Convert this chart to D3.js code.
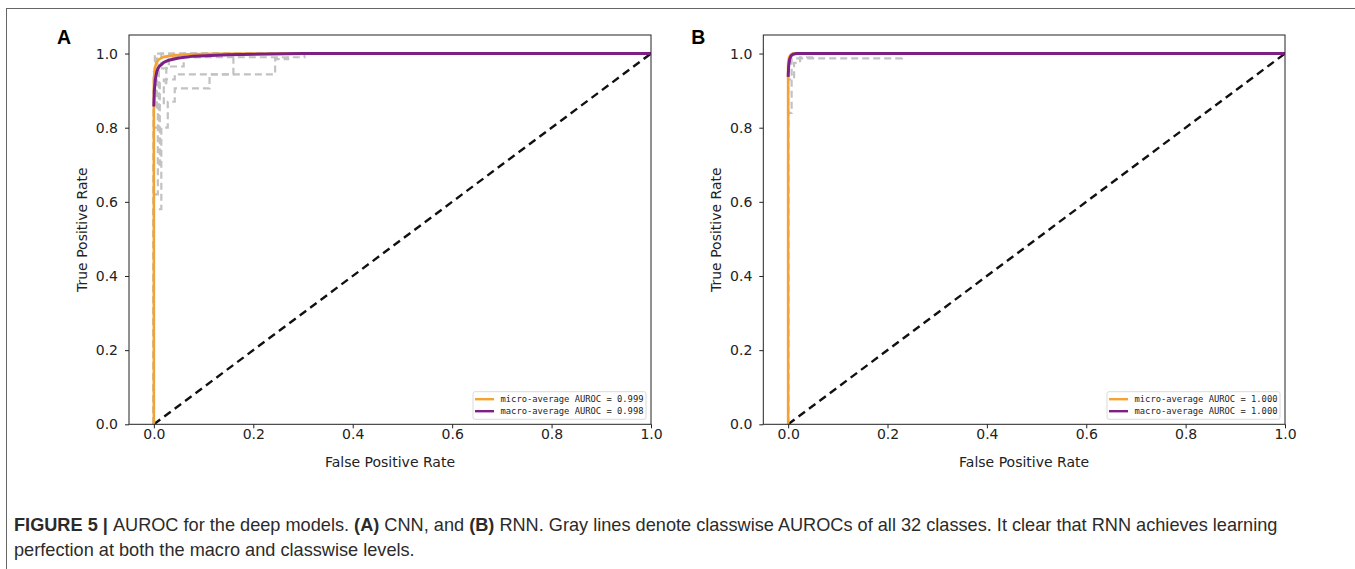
<!DOCTYPE html>
<html>
<head>
<meta charset="UTF-8">
<script src="https://d3js.org/d3.v7.min.js"></script>
<style>
  body { margin: 0; background: #fff; }
  .tick text { font-family: "DejaVu Sans", sans-serif; font-size: 14px; fill: #222; }
  .axlabel { font-family: "DejaVu Sans", sans-serif; font-size: 14px; fill: #222; }
  .legend text { font-family: "DejaVu Sans Mono", monospace; font-size: 8.8px; fill: #222; }
  .caption { font-family: "Liberation Sans", Arial, sans-serif; font-size: 15px; fill: #2b2b2b; }
</style>
</head>
<body>
<svg width="1355" height="569"></svg>
<script>
// ticks shared by both panels
const ticks = [0, 0.2, 0.4, 0.6, 0.8, 1.0];

// chance line
const chance = [[0, 0], [1, 1]];

// panel A (CNN)
const cnnMicro = [[0, 0], [0, 0.93], [0.002, 0.96], [0.005, 0.975], [0.01, 0.984], [0.02, 0.991],
  [0.04, 0.995], [0.07, 0.998], [0.12, 0.999], [0.25, 1], [1, 1]];
const cnnMacro = [[0, 0.857], [0.001, 0.9], [0.003, 0.93], [0.006, 0.952], [0.01, 0.964], [0.02, 0.976],
  [0.03, 0.982], [0.05, 0.988], [0.08, 0.993], [0.15, 0.997], [0.3, 1], [1, 1]];
const cnnClasses = [
  [[0, 0], [0, 0.85], [0.006, 0.85], [0.006, 0.99], [0.303, 0.99], [0.303, 1], [1, 1]],
  [[0, 0], [0, 0.62], [0.008, 0.62], [0.008, 0.86], [0.02, 0.86], [0.02, 0.93], [0.042, 0.93],
    [0.042, 0.944], [0.244, 0.944], [0.244, 0.985], [0.27, 0.985], [0.27, 1], [1, 1]],
  [[0, 0], [0, 0.58], [0.015, 0.58], [0.015, 0.8], [0.028, 0.8], [0.028, 0.87], [0.042, 0.87],
    [0.042, 0.906], [0.112, 0.906], [0.112, 0.944], [0.16, 0.944], [0.16, 1], [1, 1]],
  [[0, 0], [0, 0.7], [0.012, 0.7], [0.012, 0.92], [0.025, 0.92], [0.025, 0.965], [0.06, 0.965],
    [0.06, 1], [1, 1]],
  [[0, 0], [0, 0.9], [0.004, 0.9], [0.004, 0.97], [0.015, 0.97], [0.015, 1], [1, 1]],
  [[0, 0], [0, 0.95], [0.002, 0.95], [0.002, 1], [1, 1]],
  [[0, 0], [0, 0.8], [0.01, 0.8], [0.01, 0.96], [0.03, 0.96], [0.03, 0.99], [0.1, 0.99], [0.1, 1], [1, 1]]
];
const legendA = ["micro-average AUROC = 0.999", "macro-average AUROC = 0.998"];

// panel B (RNN)
const rnnMicro = [[0, 0], [0, 0.975], [0.002, 0.99], [0.005, 0.997], [0.01, 1], [1, 1]];
const rnnMacro = [[0, 0.937], [0.001, 0.965], [0.003, 0.985], [0.006, 0.994], [0.01, 0.998], [0.017, 1], [1, 1]];
const rnnClasses = [
  [[0, 0], [0, 0.84], [0.007, 0.84], [0.007, 0.987], [0.229, 0.987], [0.229, 1], [1, 1]],
  [[0, 0], [0, 0.93], [0.012, 0.93], [0.012, 0.975], [0.024, 0.975], [0.024, 0.99], [0.05, 0.99], [0.05, 1], [1, 1]],
  [[0, 0], [0, 0.97], [0.004, 0.97], [0.004, 1], [1, 1]]
];
const legendB = ["micro-average AUROC = 1.000", "macro-average AUROC = 1.000"];

const colMicro = "#f5a235", colMacro = "#7d2085", colClass = "#c2c2c2";

const svg = d3.select("svg");

// outer frame of the figure
svg.append("rect")
  .attr("x", 6.5).attr("y", 8.5).attr("width", 1400).attr("height", 600)
  .attr("fill", "none").attr("stroke", "#666").attr("stroke-width", 1);

const plotTop = 35, plotBottom = 424.3;

function panel(letter, left, right, micro, macro, classes, legend) {
  const x = d3.scaleLinear().domain([-0.05, 1.0]).range([left, right]);
  const y = d3.scaleLinear().domain([0, 1.05]).range([plotBottom, plotTop]);
  const g = svg.append("g");
  const clipId = "clip" + letter;

  g.append("clipPath").attr("id", clipId).append("rect")
    .attr("x", left).attr("y", plotTop).attr("width", right - left).attr("height", plotBottom - plotTop);

  const line = d3.line().x(d => x(d[0])).y(d => y(d[1]));
  const plot = g.append("g").attr("clip-path", `url(#${clipId})`);

  plot.selectAll(".cls").data(classes).enter().append("path")
    .attr("class", "cls")
    .attr("d", line)
    .attr("fill", "none").attr("stroke", colClass)
    .attr("stroke-width", 2.2).attr("stroke-dasharray", "7,4");

  plot.append("path").attr("d", line(chance))
    .attr("fill", "none").attr("stroke", "#111")
    .attr("stroke-width", 2.4).attr("stroke-dasharray", "8,5");

  plot.append("path").attr("d", line(micro))
    .attr("fill", "none").attr("stroke", colMicro).attr("stroke-width", 2.6);

  plot.append("path").attr("d", line(macro))
    .attr("fill", "none").attr("stroke", colMacro).attr("stroke-width", 3)
    .attr("stroke-linejoin", "round");

  // axes
  g.append("g").attr("transform", `translate(0,${plotBottom})`)
    .call(d3.axisBottom(x).tickValues(ticks).tickFormat(d3.format(".1f"))
      .tickSize(4).tickPadding(1).tickSizeOuter(0))
    .call(a => a.select(".domain").remove())
    .call(a => a.selectAll("line").attr("stroke", "#222"));

  g.append("g").attr("transform", `translate(${left},0)`)
    .call(d3.axisLeft(y).tickValues(ticks).tickFormat(d3.format(".1f"))
      .tickSize(4).tickPadding(7).tickSizeOuter(0))
    .call(a => a.select(".domain").remove())
    .call(a => a.selectAll("line").attr("stroke", "#222"));

  g.append("rect")
    .attr("x", left).attr("y", plotTop).attr("width", right - left).attr("height", plotBottom - plotTop)
    .attr("fill", "none").attr("stroke", "#222").attr("stroke-width", 1);

  g.append("text").attr("class", "axlabel")
    .attr("x", (left + right) / 2).attr("y", 467)
    .attr("text-anchor", "middle").text("False Positive Rate");

  g.append("text").attr("class", "axlabel")
    .attr("transform", `translate(${left - 42},${(plotTop + plotBottom) / 2}) rotate(-90)`)
    .attr("text-anchor", "middle").text("True Positive Rate");

  g.append("text")
    .attr("x", left - 72).attr("y", 43.5)
    .style("font-family", "Liberation Sans, Arial, sans-serif")
    .style("font-weight", "bold").style("font-size", "19.5px")
    .text(letter);

  // legend
  const lw = 173, lh = 27.6;
  const lg = g.append("g").attr("class", "legend")
    .attr("transform", `translate(${right - 5 - lw},${plotBottom - 5 - lh})`);
  lg.append("rect").attr("width", lw).attr("height", lh).attr("rx", 2)
    .attr("fill", "#fff").attr("fill-opacity", 0.85)
    .attr("stroke", "#d0d0d0").attr("stroke-width", 0.8);
  const items = lg.selectAll(".item").data(legend).enter().append("g")
    .attr("class", "item")
    .attr("transform", (d, i) => `translate(0,${7.5 + i * 12})`);
  items.append("line").attr("x1", 2).attr("x2", 21).attr("y1", 0).attr("y2", 0)
    .attr("stroke", (d, i) => i === 0 ? colMicro : colMacro).attr("stroke-width", 2.4);
  items.append("text").attr("x", 27.5).attr("y", 3).text(d => d);
}

panel("A", 129, 651, cnnMicro, cnnMacro, cnnClasses, legendA);
panel("B", 763.3, 1285, rnnMicro, rnnMacro, rnnClasses, legendB);

// caption
const cap1 = svg.append("text").attr("class", "caption").attr("x", 14).attr("y", 531);
cap1.append("tspan").style("font-weight", "bold").text("FIGURE 5 | ");
cap1.append("tspan").text("AUROC for the deep models. ");
cap1.append("tspan").style("font-weight", "bold").text("(A)");
cap1.append("tspan").text(" CNN, and ");
cap1.append("tspan").style("font-weight", "bold").text("(B)");
cap1.append("tspan").text(" RNN. Gray lines denote classwise AUROCs of all 32 classes. It clear that RNN achieves learning");
const cap2 = svg.append("text").attr("class", "caption").attr("x", 14).attr("y", 556)
  .text("perfection at both the macro and classwise levels.");

// fit caption to the width of the original line
const w = cap1.node().getComputedTextLength();
const fs = 15 * 1264 / w;
cap1.style("font-size", fs + "px");
cap2.style("font-size", fs + "px");
</script>
</body>
</html>
